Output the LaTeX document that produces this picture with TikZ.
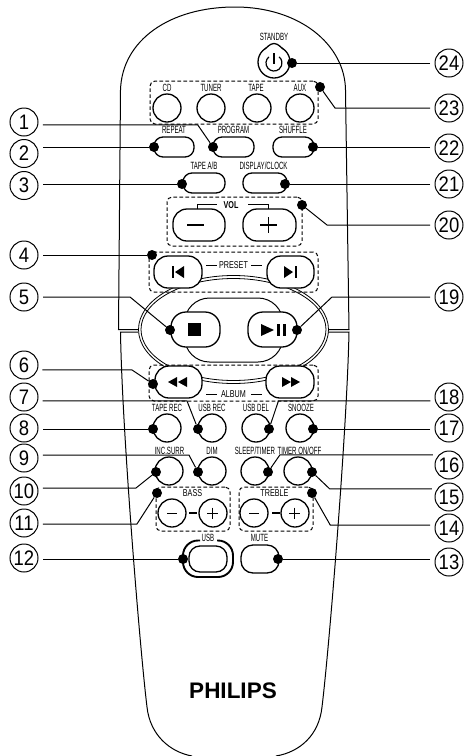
\documentclass[tikz,border=0pt]{standalone}
\usepackage{fontspec}
\setmainfont{Liberation Sans}
\newfontfamily\labfont[FakeStretch=.58]{Liberation Sans}
\newfontfamily\grpfont[FakeStretch=.72]{Liberation Sans}
\newfontfamily\numfont[FakeStretch=.88]{Liberation Sans}
\tikzset{
  pill/.style 2 args={draw=black,fill=white,line width=1.3pt,rectangle,rounded corners=9pt,inner sep=0pt,minimum width=#1pt,minimum height=#2pt},
  roundbtn/.style={draw=black,fill=white,line width=1.3pt,circle,inner sep=0pt,minimum size=28pt},
  dashbox/.style 2 args={draw=black,line width=1pt,dash pattern=on 3.6pt off 2.4pt,rectangle,rounded corners=5pt,inner sep=0pt,minimum width=#1pt,minimum height=#2pt},
  cdot/.style={circle,fill=black,inner sep=0pt,minimum size=10pt},
  numc/.style={draw=black,line width=1pt,circle,inner sep=0pt,minimum size=28pt,outer sep=5pt,font=\numfont\fontsize{21}{21}\selectfont},
  lbl/.style={inner sep=0pt,font=\labfont\fontsize{10.5}{11}\selectfont},
  grp/.style={inner sep=0pt,font=\grpfont\fontsize{10}{11}\selectfont},
  conn/.style={draw=black,line width=1pt},
  bodyline/.style={draw=black,line width=1pt},
  thinmark/.style={draw=black,line width=1.1pt},
}
\begin{document}
\begin{tikzpicture}[x=1pt,y=-1pt]
\useasboundingbox (0,0) rectangle (464,756);
% body
\draw[bodyline] (138,329.5) -- (118.5,329.5) -- (120.5,90) .. controls (122,40) and (170,7) .. (235,7)
  .. controls (300,7) and (345,45) .. (345.5,90) -- (349,329.5) -- (328,329.5);
\draw[bodyline] (138,332) -- (120.5,332) .. controls (122,430) and (140,650) .. (147,707)
  .. controls (150,735) and (170,752) .. (192,756);
\draw[bodyline] (328,332) -- (349,332) .. controls (347,430) and (329,650) .. (322,707)
  .. controls (319,735) and (300,752) .. (276,756);
% central ovals
\draw[line width=.8pt] (233.5,329.5) ellipse [x radius=95pt,y radius=54pt];
\draw[line width=.8pt] (233.5,329.5) ellipse [x radius=92.5pt,y radius=51pt];
\draw[line width=1pt,rounded corners=25pt] (184.5,298) rectangle (283,362);
% dashed groups
\node[dashbox={168}{43}] (srcbox) at (234,102.5) {};
\node[dashbox={135}{49}] (volbox) at (234.5,221.5) {};
\node[dashbox={169}{40}] (presetbox) at (233.5,272) {};
\node[dashbox={169}{36}] (albumbox) at (233.5,383) {};
\node[dashbox={74}{44}] (bassbox) at (193,509) {};
\node[dashbox={74}{44}] (treblebox) at (276,509) {};
% standby
\node[roundbtn,minimum size=32pt] (standby) at (274,62) {};
\draw[line width=1.3pt,fill=white] (265,49) .. controls (268,47) and (269,44) .. (274,43.5) .. controls (279,44) and (280,47) .. (283,49);
\draw[line width=1.2pt] (268.86,56.87) arc[start angle=130,end angle=410,radius=8pt];
\draw[line width=1.2pt] (274,53) -- (274,64);
\node[lbl] (lstandby) at (274,37) {STANDBY};
% source buttons
\node[roundbtn] (cd) at (167,108) {};
\node[roundbtn] (tuner) at (211,108) {};
\node[roundbtn] (tape) at (257,108) {};
\node[roundbtn] (aux) at (300,108) {};
\node[lbl] (lcd) at (167,87.5) {CD};
\node[lbl] (ltuner) at (211,87.5) {TUNER};
\node[lbl] (ltape) at (256,87.5) {TAPE};
\node[lbl] (laux) at (300,87.5) {AUX};
% row buttons
\node[pill={40}{20}] (repeatb) at (174,147) {};
\node[pill={41}{20}] (program) at (233.5,147) {};
\node[pill={41}{20}] (shuffle) at (293.5,147) {};
\node[pill={42}{20}] (tapeab) at (204,183) {};
\node[pill={44}{20}] (display) at (265,183) {};
\node[lbl] (lrepeat) at (174,130) {REPEAT};
\node[lbl] (lprogram) at (233.5,130) {PROGRAM};
\node[lbl] (lshuffle) at (293,130) {SHUFFLE};
\node[lbl] (ltapeab) at (204,166) {TAPE A/B};
\node[lbl] (ldisplay) at (263.5,166) {DISPLAY/CLOCK};
% volume
\node[pill={52}{32},rounded corners=14pt] (volminus) at (199,225) {};
\node[pill={53}{32},rounded corners=14pt] (volplus) at (269.5,225) {};
\draw[thinmark] (187,225) -- (204,225);
\draw[thinmark] (260,225) -- (277,225) (268.5,217) -- (268.5,233);
\node[inner sep=0pt,font=\grpfont\bfseries\fontsize{10}{11}\selectfont] (lvol) at (231,205) {VOL};
\draw[line width=1pt] (197,209) -- (197,204) -- (217,204) (248,204) -- (268,204) -- (268,209);
% preset / transport / album
\node[pill={48}{32},rounded corners=14pt] (prev) at (178,272) {};
\node[pill={47}{32},rounded corners=14pt] (next) at (290.5,272) {};
\node[pill={49}{35},rounded corners=15pt] (stop) at (195.5,329.5) {};
\node[pill={49}{35},rounded corners=15pt] (play) at (272.5,329.5) {};
\node[pill={47}{32},rounded corners=14pt] (rew) at (178.5,382) {};
\node[pill={48}{32},rounded corners=14pt] (ffw) at (290,382) {};
\fill (172,266) rectangle (173.5,278);
\fill (175,272) -- (184,266) -- (184,278) -- cycle;
\fill (284,266) -- (293,272) -- (284,278) -- cycle;
\fill (295,266) rectangle (296.5,278);
\fill (188,323) rectangle (201,336);
\fill (261,324) -- (274,330) -- (261,336) -- cycle;
\fill (276.7,324) rectangle (280,336);
\fill (282.7,324) rectangle (286,336);
\fill (168,382) -- (177,377) -- (177,387) -- cycle;
\fill (178,382) -- (187,377) -- (187,387) -- cycle;
\fill (282,377) -- (291,382) -- (282,387) -- cycle;
\fill (291,377) -- (300,382) -- (291,387) -- cycle;
\node[grp] (lpreset) at (233.5,265.5) {PRESET};
\node[grp] (lalbum) at (233.5,394) {ALBUM};
\draw[line width=.9pt] (206,265) -- (217,265) (251,265) -- (262,265) (206,394) -- (217,394) (251,394) -- (262,394);
% middle round buttons
\node[roundbtn] (taperec) at (167,428) {};
\node[roundbtn] (usbrec) at (212,428) {};
\node[roundbtn] (usbdel) at (256,428) {};
\node[roundbtn] (snooze) at (300,428) {};
\node[lbl] (ltaperec) at (167,408) {TAPE REC};
\node[lbl] (lusbrec) at (212,408) {USB REC};
\node[lbl] (lusbdel) at (256,408) {USB DEL};
\node[lbl] (lsnooze) at (301,408) {SNOOZE};
\node[roundbtn] (incsurr) at (169,471) {};
\node[roundbtn] (dim) at (212,471) {};
\node[roundbtn] (sleep) at (255,471) {};
\node[roundbtn] (timer) at (298,471) {};
\node[lbl] (lincsurr) at (169.5,450.5) {INC.SURR};
\node[lbl] (ldim) at (212,450.5) {DIM};
\node[lbl] (lsleep) at (255,450.5) {SLEEP/TIMER};
\node[lbl] (ltimer) at (299.5,450.5) {TIMER ON/OFF};
% bass / treble
\node[roundbtn] (bassm) at (172,513) {};
\node[roundbtn] (bassp) at (213,513) {};
\node[roundbtn] (treblem) at (254,513) {};
\node[roundbtn] (treblep) at (295,513) {};
\draw[line width=1.6pt] (189,513) -- (197,513) (272,513) -- (280,513);
\draw[line width=.9pt] (167,513) -- (177,513) (207,513) -- (218,513) (212.5,507.5) -- (212.5,518.5);
\draw[line width=.9pt] (249,513) -- (259,513) (289,513) -- (300,513) (294.5,507.5) -- (294.5,518.5);
\node[grp,font=\grpfont\fontsize{10}{11}\selectfont] (lbass) at (192.5,493.5) {BASS};
\node[grp,font=\grpfont\fontsize{10}{11}\selectfont] (ltreble) at (274.5,493.5) {TREBLE};
% usb / mute
\draw[line width=1.9pt,rounded corners=15pt] (200,540.5) -- (183,540.5) -- (183,577) -- (233,577) -- (233,540.5) -- (217,540.5);
\node[pill={38}{26},rounded corners=11pt] (usb) at (208,559) {};
\node[pill={38}{28},rounded corners=12pt] (mute) at (260,559) {};
\node[lbl] (lusb) at (208,538) {USB};
\node[lbl] (lmute) at (259.5,538) {MUTE};
% brand
\node[inner sep=0pt,font=\bfseries\fontsize{22.5}{23}\selectfont] (brand) at (233,691) {PHILIPS};
% callouts left
\node[numc] (c1) at (24,122) {1};
\node[numc] (c2) at (24,153.5) {2};
\node[numc] (c3) at (24,185.5) {3};
\node[numc] (c4) at (24,255) {4};
\node[numc] (c5) at (24,297) {5};
\node[numc] (c6) at (24,365) {6};
\node[numc] (c7) at (24,397) {7};
\node[numc] (c8) at (24,428) {8};
\node[numc] (c9) at (24,458) {9};
\node[numc] (c10) at (24,491) {10};
\node[numc] (c11) at (24,523) {11};
\node[numc] (c12) at (24,558) {12};
% callouts right
\node[numc] (c13) at (449,562) {13};
\node[numc] (c14) at (449,528) {14};
\node[numc] (c15) at (449,497) {15};
\node[numc] (c16) at (449,465) {16};
\node[numc] (c17) at (449,428) {17};
\node[numc] (c18) at (449,397) {18};
\node[numc] (c19) at (449,297) {19};
\node[numc] (c20) at (449,225) {20};
\node[numc] (c21) at (449,184) {21};
\node[numc] (c22) at (449,148) {22};
\node[numc] (c23) at (449,108) {23};
\node[numc] (c24) at (449,63) {24};
% dots
\node[cdot] (d1) at (213,147) {};
\node[cdot] (d2) at (154,147) {};
\node[cdot] (d3) at (182,184) {};
\node[cdot] (d4) at (152,255) {};
\node[cdot] (d5) at (170,330) {};
\node[cdot] (d6) at (153,384) {};
\node[cdot] (d7) at (198,429) {};
\node[cdot] (d8) at (153,429) {};
\node[cdot] (d9) at (198,472) {};
\node[cdot] (d10) at (156,472) {};
\node[cdot] (d11) at (157,493) {};
\node[cdot] (d12) at (183,559) {};
\node[cdot] (d13) at (278,559) {};
\node[cdot] (d14) at (312,493) {};
\node[cdot] (d15) at (312,472) {};
\node[cdot] (d16) at (268,472) {};
\node[cdot] (d17) at (313,429) {};
\node[cdot] (d18) at (269,429) {};
\node[cdot] (d19) at (297,330) {};
\node[cdot] (d20) at (302,205) {};
\node[cdot] (d21) at (285,184) {};
\node[cdot] (d22) at (313,147) {};
\node[cdot] (d23) at (320,87) {};
\node[cdot] (d24) at (292,63) {};
% connectors
\draw[conn] (c1.-9) -- ++(155,0) -- (d1);
\draw[conn] (c2.east |- d2) -- (d2);
\draw[conn] (c3.east |- d3) -- (d3);
\draw[conn] (c4.east) -- (d4);
\draw[conn] (c5.east) -- ++(87,0) -- (d5);
\draw[conn] (c6.-15) -- ++(89.6,0) -- (d6);
\draw[conn] (c7.-12) -- ++(144.4,0) -- (d7);
\draw[conn] (c8.east |- d8) -- (d8);
\draw[conn] (c9.9) -- ++(146.2,0) -- (d9);
\draw[conn] (c10.9) -- ++(93.2,0) -- (d10);
\draw[conn] (c11.-3) -- ++(94,0) -- (d11);
\draw[conn] (c12.east |- d12) -- (d12);
\draw[conn] (c13.west |- d13) -- (d13);
\draw[conn] (c14.171) -- ++(-100,0) -- (d14);
\draw[conn] (c15.155) -- ++(-102,0) -- (d15);
\draw[conn] (c16.148) -- ++(-153,0) -- (d16);
\draw[conn] (c17.west |- d17) -- (d17);
\draw[conn] (c18.192) -- ++(-152,0) -- (d18);
\draw[conn] (c19.west) -- ++(-98,0) -- (d19);
\draw[conn] (c20.west) -- ++(-103,0) -- (d20);
\draw[conn] (c21.west) -- (d21);
\draw[conn] (c22.west |- d22) -- (d22);
\draw[conn] (c23.west) -- ++(-95,0) -- (d23);
\draw[conn] (c24.west) -- (d24);
\end{tikzpicture}
\end{document}
